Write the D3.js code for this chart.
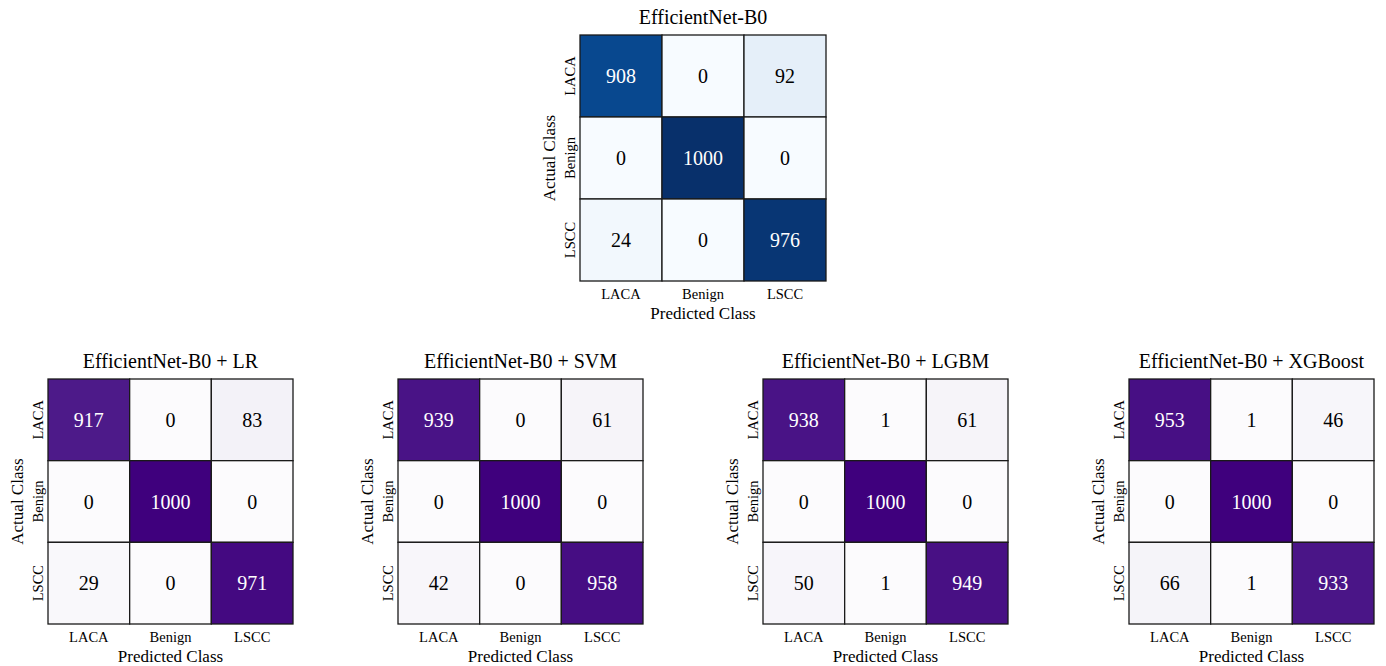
<!DOCTYPE html>
<html>
<head>
<meta charset="utf-8">
<script src="https://cdn.jsdelivr.net/npm/d3@7"></script>
<style>
  html, body { margin: 0; padding: 0; background: #fff; }
  svg { display: block; font-family: "Liberation Serif", "Times New Roman", serif; }
</style>
</head>
<body>
<svg id="chart" width="1386" height="666"></svg>
<script>
// Class labels shared by every confusion matrix
const classes = ["LACA", "Benign", "LSCC"];

// Confusion matrices (rows = actual class, columns = predicted class)
const cmB0   = [[908, 0, 92], [0, 1000, 0], [24, 0, 976]];
const cmLR   = [[917, 0, 83], [0, 1000, 0], [29, 0, 971]];
const cmSVM  = [[939, 0, 61], [0, 1000, 0], [42, 0, 958]];
const cmLGBM = [[938, 1, 61], [0, 1000, 0], [50, 1, 949]];
const cmXGB  = [[953, 1, 46], [0, 1000, 0], [66, 1, 933]];

const titles = [
  "EfficientNet-B0",
  "EfficientNet-B0 + LR",
  "EfficientNet-B0 + SVM",
  "EfficientNet-B0 + LGBM",
  "EfficientNet-B0 + XGBoost"
];

// ColorBrewer sequential palettes, interpolated piecewise-linearly
const bluesStops   = ["#f7fbff","#deebf7","#c6dbef","#9ecae1","#6baed6","#4292c6","#2171b5","#08519c","#08306b"];
const purplesStops = ["#fcfbfd","#efedf5","#dadaeb","#bcbddc","#9e9ac8","#807dba","#6a51a3","#54278f","#3f007d"];

function linearMap(stops) {
  const s = d3.scaleLinear()
    .domain(stops.map((_, i) => i / (stops.length - 1)))
    .range(stops)
    .interpolate(d3.interpolateRgb)
    .clamp(true);
  return t => s(t);
}

const panels = [
  { title: titles[0], data: cmB0,   cmap: linearMap(bluesStops),   x: 580,  y: 35,  size: 246 },
  { title: titles[1], data: cmLR,   cmap: linearMap(purplesStops), x: 48,   y: 379, size: 245 },
  { title: titles[2], data: cmSVM,  cmap: linearMap(purplesStops), x: 398,  y: 379, size: 245 },
  { title: titles[3], data: cmLGBM, cmap: linearMap(purplesStops), x: 763,  y: 379, size: 245 },
  { title: titles[4], data: cmXGB,  cmap: linearMap(purplesStops), x: 1129, y: 379, size: 245 }
];

const svg = d3.select("#chart");

// relative luminance, used to pick annotation colour
function luminance(c) {
  const rgb = d3.rgb(c);
  const f = v => { v /= 255; return v <= 0.03928 ? v / 12.92 : Math.pow((v + 0.055) / 1.055, 2.4); };
  return 0.2126 * f(rgb.r) + 0.7152 * f(rgb.g) + 0.0722 * f(rgb.b);
}

panels.forEach(p => {
  const g = svg.append("g").attr("transform", `translate(${p.x},${p.y})`);
  const x = d3.scaleBand().domain(classes).range([0, p.size]);
  const y = d3.scaleBand().domain(classes).range([0, p.size]);
  const flat = p.data.flat();
  const color = d3.scaleSequential(p.cmap).domain([d3.min(flat), d3.max(flat)]);

  const cells = [];
  p.data.forEach((row, i) => row.forEach((v, j) => cells.push({ r: classes[i], c: classes[j], v })));

  g.selectAll("rect.cell").data(cells).join("rect")
    .attr("class", "cell")
    .attr("x", d => x(d.c))
    .attr("y", d => y(d.r))
    .attr("width", x.bandwidth())
    .attr("height", y.bandwidth())
    .attr("fill", d => color(d.v))
    .attr("stroke", "#1a1a1a")
    .attr("stroke-width", 1.3);

  g.selectAll("text.val").data(cells).join("text")
    .attr("class", "val")
    .attr("x", d => x(d.c) + x.bandwidth() / 2)
    .attr("y", d => y(d.r) + y.bandwidth() / 2)
    .attr("dy", "0.35em")
    .attr("text-anchor", "middle")
    .attr("font-size", 20)
    .attr("fill", d => luminance(color(d.v)) > 0.408 ? "#000" : "#fff")
    .text(d => d.v);

  // column (predicted) ticks
  const xAxis = g.append("g")
    .attr("transform", `translate(0,${p.size})`)
    .call(d3.axisBottom(x).tickSize(0).tickPadding(8));
  xAxis.select(".domain").remove();
  xAxis.attr("font-family", null);
  xAxis.selectAll("text")
    .attr("font-size", 14.5).attr("fill", "#000");

  // row (actual) ticks, rotated
  const yAxis = g.append("g").call(d3.axisLeft(y).tickSize(0));
  yAxis.select(".domain").remove();
  yAxis.attr("font-family", null);
  yAxis.selectAll("text")
    .attr("font-size", 14.5).attr("fill", "#000")
    .attr("x", null).attr("dy", null)
    .attr("text-anchor", "middle")
    .attr("transform", "translate(-5,0) rotate(-90)");

  g.append("text")
    .attr("x", p.size / 2).attr("y", -11)
    .attr("text-anchor", "middle")
    .attr("font-size", 20)
    .text(p.title);

  g.append("text")
    .attr("x", p.size / 2).attr("y", p.size + 38)
    .attr("text-anchor", "middle")
    .attr("font-size", 17)
    .text("Predicted Class");

  g.append("text")
    .attr("transform", `translate(-25,${p.size / 2}) rotate(-90)`)
    .attr("text-anchor", "middle")
    .attr("font-size", 17)
    .text("Actual Class");
});
</script>
</body>
</html>
